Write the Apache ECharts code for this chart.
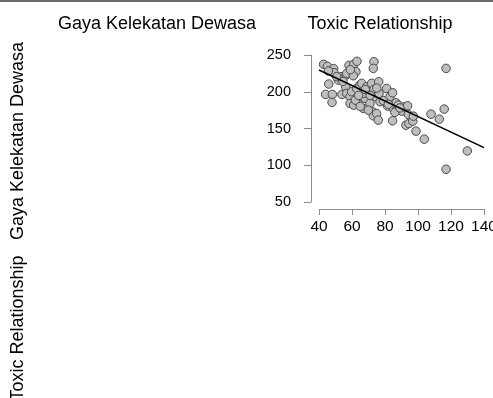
<!DOCTYPE html>
<html>
<head>
<meta charset="utf-8">
<script src="https://cdn.jsdelivr.net/npm/echarts@6/dist/echarts.min.js"></script>
<style>
html,body{margin:0;padding:0;background:#fff;}
#chart{width:493px;height:398px;}
</style>
</head>
<body>
<div id="chart"></div>
<script>
// Variable names (column titles / row labels)
const varNames = ["Gaya Kelekatan Dewasa", "Toxic Relationship"];

// Scatter data: x = horizontal values, y = vertical values
const xValues = [
  42.8,45.1,48.9,49.1,45.7,45.9,44.0,48.1,47.9,51.7,53.3,50.7,53.9,56.4,56.8,58.2,61.0,63.0,62.4,60.8,
  73.3,72.9,56.2,56.8,58.8,58.8,59.8,62.8,63.4,63.4,64.8,65.9,66.9,67.9,68.9,69.9,70.9,71.9,72.5,72.9,
  73.3,74.3,74.9,75.9,76.2,76.4,77.0,69.9,61.0,62.0,66.9,81.0,81.6,83.0,84.6,85.0,84.6,86.7,87.1,88.1,
  90.1,91.7,93.7,94.1,92.7,94.5,96.8,97.2,98.8,103.8,107.9,112.9,115.9,117.0,117.0,129.9,
  54.5,59.0,64.0,68.0,71.0,75.0,79.0,82.0,86.0,89.0,65.0
];
const yValues = [
  237.3,234.5,231.4,225.9,228.2,210.5,196.4,196.4,185.5,215.9,220.5,220.5,196.4,222.7,225.0,235.9,237.3,241.4,227.3,221.8,
  240.9,231.8,206.8,197.7,193.2,184.1,200.0,204.5,193.2,184.1,209.1,211.4,177.3,190.9,206.8,200.0,184.1,211.4,172.7,167.3,
  203.2,193.2,170.5,161.4,213.6,197.7,186.4,175.0,181.8,188.6,197.7,204.5,180.5,193.2,198.6,177.3,160.5,185.0,175.9,181.8,
  173.6,179.5,180.9,169.1,154.5,156.8,160.0,166.8,146.4,135.5,169.5,162.7,176.4,231.8,94.5,119.5,
  214.0,230.0,195.0,203.0,195.0,205.0,188.0,183.0,172.0,178.0,180.0
];

// Fitted line endpoints
const lineX = [40, 140];
const lineY = [229.5, 124];

// Tick settings
const xTicks = {min: 40, max: 140, interval: 20};
const yTicks = {min: 50, max: 250, interval: 50};

const points = xValues.map((x, i) => [x, yValues[i]]);
const linePts = lineX.map((x, i) => [x, lineY[i]]);

const chart = echarts.init(document.getElementById('chart'), null, {renderer: 'canvas'});
const FONT = '"Liberation Sans", Arial, Helvetica, sans-serif';
const axisGray = '#8c8c8c';

chart.setOption({
  animation: false,
  backgroundColor: '#ffffff',
  grid: {left: 319, top: 55, width: 165, height: 147, containLabel: false, outerBoundsMode: 'none'},
  xAxis: {
    type: 'value', min: xTicks.min, max: xTicks.max, interval: xTicks.interval,
    offset: 7,
    axisLine: {show: true, lineStyle: {color: axisGray, width: 1}},
    axisTick: {show: true, length: 6, lineStyle: {color: axisGray, width: 1}},
    splitLine: {show: false},
    axisLabel: {color: '#000', fontSize: 15.5, fontFamily: FONT, margin: 10, showMinLabel: true, showMaxLabel: true, hideOverlap: false}
  },
  yAxis: {
    type: 'value', min: yTicks.min, max: yTicks.max, interval: yTicks.interval,
    offset: 8,
    axisLine: {show: true, lineStyle: {color: axisGray, width: 1}},
    axisTick: {show: true, length: 7, lineStyle: {color: axisGray, width: 1}},
    splitLine: {show: false},
    axisLabel: {color: '#000', fontSize: 14.5, fontFamily: FONT, margin: 20}
  },
  series: [
    {
      type: 'scatter', data: points, symbol: 'circle', symbolSize: 8.5, z: 2,
      itemStyle: {color: '#bebebe', borderColor: '#4a4a4a', borderWidth: 1, opacity: 1}
    },
    {
      type: 'line', data: linePts, showSymbol: false, symbol: 'none', z: 3,
      lineStyle: {color: '#000', width: 1.6}
    }
  ],
  graphic: [
    {type: 'rect', left: 0, top: 0, shape: {width: 493, height: 2}, style: {fill: '#6b6b6b'}},
    {type: 'text', x: 157, y: 24, style: {text: varNames[0], font: '18px ' + FONT, fill: '#000', textAlign: 'center', textVerticalAlign: 'middle'}},
    {type: 'text', x: 380, y: 24, style: {text: varNames[1], font: '18px ' + FONT, fill: '#000', textAlign: 'center', textVerticalAlign: 'middle'}},
    {type: 'text', x: 18, y: 141, rotation: Math.PI / 2, style: {text: varNames[0], font: '18px ' + FONT, fill: '#000', textAlign: 'center', textVerticalAlign: 'middle'}},
    {type: 'text', x: 18, y: 328, rotation: Math.PI / 2, style: {text: varNames[1], font: '18px ' + FONT, fill: '#000', textAlign: 'center', textVerticalAlign: 'middle'}}
  ]
});
</script>
</body>
</html>
